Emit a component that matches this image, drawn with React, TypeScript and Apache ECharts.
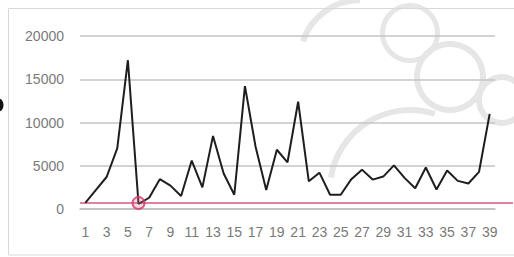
import React, { useEffect, useRef } from "react";
import * as echarts from "echarts";

const categories: string[] = Array.from({ length: 39 }, (_, i) => String(i + 1));
const values: number[] = [
  700, 2200, 3700, 7000, 17200, 600, 1300, 3450, 2700, 1500,
  5600, 2500, 8450, 4100, 1650, 14200, 7200, 2200, 6850, 5400,
  12400, 3200, 4200, 1650, 1650, 3450, 4550, 3400, 3750, 5050,
  3600, 2400, 4800, 2250, 4450, 3250, 2950, 4300, 11000,
];
const threshold = 700;
const markedIndex = 5;
const yTicks = { min: 0, max: 20000, interval: 5000 };

export default function App() {
  const ref = useRef<HTMLDivElement>(null);
  useEffect(() => {
    if (!ref.current) return;
    const chart = echarts.init(ref.current, undefined, { renderer: "svg" });
    const wm = "#e6e6e6";
    chart.setOption({
      animation: false,
      backgroundColor: "#ffffff",
      grid: { left: 80, right: 19, top: 36, bottom: 48 },
      xAxis: {
        type: "category",
        data: categories,
        boundaryGap: true,
        axisLine: { show: true, lineStyle: { color: "#bfbfbf", width: 1.5 } },
        axisTick: { show: false },
        axisLabel: {
          interval: 1,
          color: "#7a7a7a",
          fontSize: 14,
          fontFamily: "Liberation Sans",
          margin: 16,
        },
        splitLine: { show: false },
      },
      yAxis: {
        type: "value",
        min: yTicks.min,
        max: yTicks.max,
        interval: yTicks.interval,
        axisLine: { show: false },
        axisTick: { show: false },
        axisLabel: {
          color: "#7a7a7a",
          fontSize: 14,
          fontFamily: "Liberation Sans",
          margin: 16,
          formatter: (v: number) => String(v),
        },
        splitLine: { lineStyle: { color: "#c4c4c4", width: 1.5 } },
      },
      series: [
        {
          type: "line",
          data: values,
          symbol: "none",
          z: 3,
          lineStyle: { color: "#1e1e1e", width: 2 },
        },
        {
          type: "scatter",
          data: [[markedIndex, threshold]],
          symbol: "circle",
          symbolSize: 12,
          z: 4,
          itemStyle: {
            color: "rgba(230,120,150,0.35)",
            borderColor: "#d23a66",
            borderWidth: 2,
          },
        },
      ],
    });
    const yPix = chart.convertToPixel({ yAxisIndex: 0 }, threshold) as number;
    const xStart = chart.convertToPixel({ xAxisIndex: 0 }, 0) as number;
    const step = (chart.convertToPixel({ xAxisIndex: 0 }, 1) as number) - xStart;
    chart.setOption({
      graphic: [
        { type: "ring", z: -10, silent: true, shape: { cx: 410, cy: 33, r: 30, r0: 25 }, style: { fill: wm } },
        { type: "ring", z: -10, silent: true, shape: { cx: 450, cy: 77, r: 36, r0: 30 }, style: { fill: wm } },
        { type: "ring", z: -10, silent: true, shape: { cx: 502, cy: 100, r: 26, r0: 20 }, style: { fill: wm } },
        { type: "arc", z: -10, silent: true, shape: { cx: 410, cy: 190, r: 80, startAngle: Math.PI * 1.05, endAngle: Math.PI * 1.6 }, style: { stroke: wm, lineWidth: 6, fill: "none" } },
        { type: "arc", z: -10, silent: true, shape: { cx: 360, cy: 60, r: 60, startAngle: Math.PI * 1.1, endAngle: Math.PI * 1.5 }, style: { stroke: wm, lineWidth: 6, fill: "none" } },
        {
          type: "rect",
          z: -5,
          silent: true,
          shape: { x: 8.5, y: 8.5, width: 530, height: 246.5 },
          style: { fill: "none", stroke: "#d9d9d9", lineWidth: 1 },
        },
        {
          type: "line",
          z: 2,
          silent: true,
          shape: { x1: xStart - step / 2, y1: yPix, x2: 513, y2: yPix },
          style: { stroke: "#d9577c", lineWidth: 1.5 },
        },
        {
          type: "ellipse",
          silent: true,
          shape: { cx: -1, cy: 105, rx: 4.5, ry: 6.5 },
          style: { fill: "#111" },
        },
      ],
    });
    return () => chart.dispose();
  }, []);
  return <div ref={ref} style={{ width: 514, height: 257, position: "absolute", left: 0, top: 0 }} />;
}
